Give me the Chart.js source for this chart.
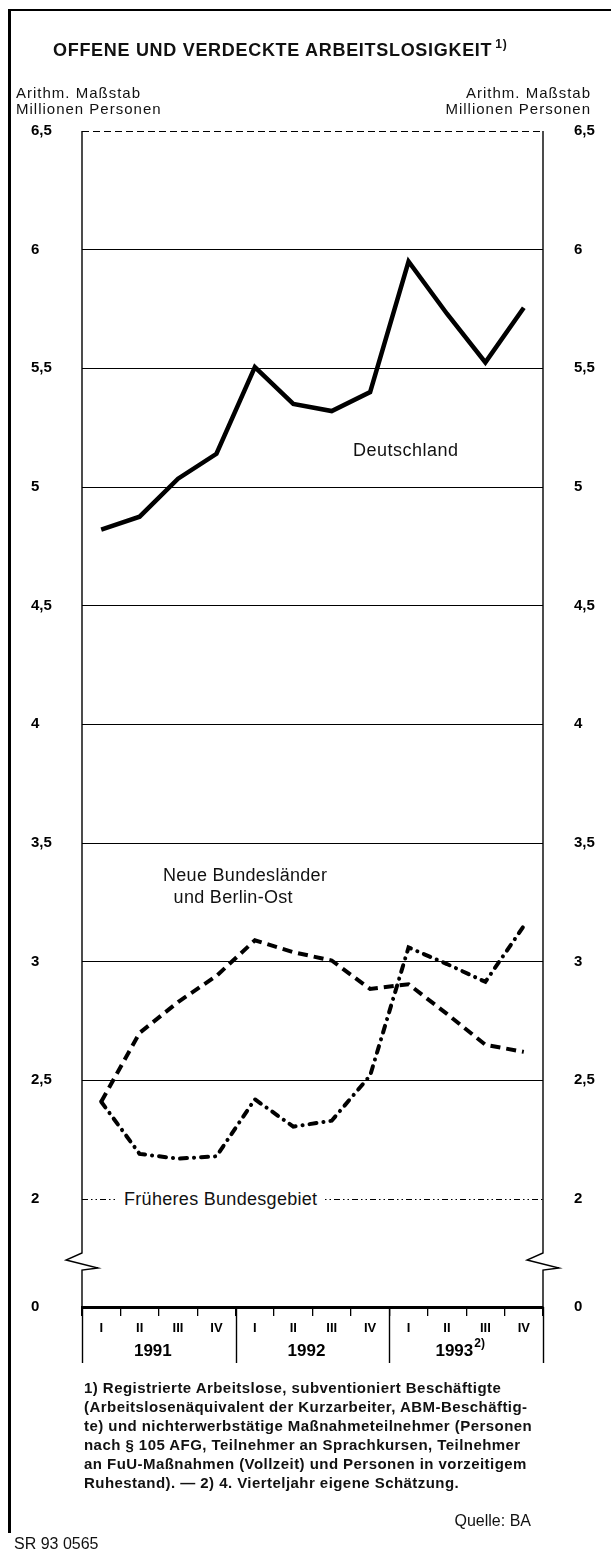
<!DOCTYPE html>
<html><head><meta charset="utf-8">
<script src="https://cdn.jsdelivr.net/npm/chart.js@4"></script>
<style>
html,body{margin:0;padding:0;background:#fff;}
#wrap{position:relative;width:611px;height:1554px;overflow:hidden;font-family:"Liberation Sans",Arial,Helvetica,sans-serif;color:#111;}
#c{position:absolute;left:0;top:0;}
.t{position:absolute;white-space:nowrap;}
.sup{font-size:12px;position:relative;top:-8px;margin-left:3px;}
</style></head><body>
<div id="wrap">
<canvas id="c" width="611" height="1554"></canvas>
<div class="t" style="left:8px;top:9px;width:603px;height:2px;background:#000;"></div>
<div class="t" style="left:8px;top:9px;width:3px;height:1524px;background:#000;"></div>
<div class="t" style="left:53px;top:39px;font-weight:bold;font-size:18px;letter-spacing:0.7px;line-height:22px;">OFFENE UND VERDECKTE ARBEITSLOSIGKEIT<span class="sup">1)</span></div>
<div class="t" style="left:16px;top:85px;font-size:15px;line-height:16px;letter-spacing:1px;">Arithm. Maßstab<br>Millionen Personen</div>
<div class="t" style="right:20px;top:85px;font-size:15px;line-height:16px;letter-spacing:1px;text-align:right;">Arithm. Maßstab<br>Millionen Personen</div>
<div class="t" style="left:353px;top:439px;font-size:18px;line-height:22px;letter-spacing:0.5px;">Deutschland</div>
<div class="t" style="left:163px;top:864px;font-size:18px;line-height:22px;letter-spacing:0.3px;">Neue Bundesländer<br>&nbsp;&nbsp;und Berlin-Ost</div>
<div class="t" style="left:118px;top:1188px;font-size:18px;line-height:22px;letter-spacing:0.3px;background:#fff;padding:0 6px;">Früheres Bundesgebiet</div>
<div class="t" style="left:84px;top:1378px;font-size:15px;font-weight:bold;line-height:19px;letter-spacing:0.45px;">1) Registrierte Arbeitslose, subventioniert Beschäftigte<br>(Arbeitslosenäquivalent der Kurzarbeiter, ABM-Beschäftig-<br>te) und nichterwerbstätige Maßnahmeteilnehmer (Personen<br>nach § 105 AFG, Teilnehmer an Sprachkursen, Teilnehmer<br>an FuU-Maßnahmen (Vollzeit) und Personen in vorzeitigem<br>Ruhestand). — 2) 4. Vierteljahr eigene Schätzung.</div>
<div class="t" style="right:80px;top:1511px;font-size:16px;line-height:20px;">Quelle: BA</div>
<div class="t" style="left:14px;top:1535px;font-size:16px;line-height:18px;">SR 93 0565</div>
</div>
<script>
// ---- data ----
const quarterLabels = ['I','II','III','IV','I','II','III','IV','I','II','III','IV'];
const yearLabels = ['1991','1992','1993'];
const yearNotes = ['','','2)'];
const deutschland = [4.82, 4.875, 5.035, 5.14, 5.505, 5.35, 5.32, 5.40, 5.95, 5.73, 5.525, 5.755];
const neueLaender = [2.41, 2.70, 2.83, 2.94, 3.09, 3.04, 3.005, 2.885, 2.905, 2.78, 2.65, 2.62];
const frueheresBG = [2.41, 2.19, 2.17, 2.18, 2.42, 2.305, 2.33, 2.52, 3.06, 2.99, 2.915, 3.15];
const yTickValues = [2, 2.5, 3, 3.5, 4, 4.5, 5, 5.5, 6, 6.5];
const yTickLabels = ['2','2,5','3','3,5','4','4,5','5','5,5','6','6,5'];
const yBreakBase = 1.545;   // broken axis: bottom of the scale stands for 0
const yBaseLabel = '0';
const yMax = 6.5;

const FONT = "'Liberation Sans', Arial, Helvetica, sans-serif";

const decor = {
  id: 'decor',
  beforeDatasetsDraw(chart) {
    const {ctx, chartArea: ca, scales: {y}} = chart;
    ctx.save();
    ctx.strokeStyle = '#000';
    ctx.lineWidth = 1;
    ctx.setLineDash([7, 4]);
    let yy = Math.round(y.getPixelForValue(yMax)) + 0.5;
    ctx.beginPath(); ctx.moveTo(ca.left, yy); ctx.lineTo(ca.right, yy); ctx.stroke();
    ctx.setLineDash([6, 3, 1.5, 3, 1.5, 3]);
    yy = Math.round(y.getPixelForValue(2)) + 0.5;
    ctx.beginPath(); ctx.moveTo(ca.left, yy); ctx.lineTo(ca.right, yy); ctx.stroke();
    ctx.restore();
  },
  afterDraw(chart) {
    const {ctx, chartArea: ca, scales: {x}} = chart;
    ctx.save();
    ctx.strokeStyle = '#000';
    ctx.lineWidth = 1.4;
    ctx.setLineDash([]);
    const by = ca.bottom - 46;
    [ca.left, ca.right].forEach(x0 => {
      ctx.beginPath();
      ctx.moveTo(x0, ca.top);
      ctx.lineTo(x0, by - 8);
      ctx.lineTo(x0 - 16, by - 1);
      ctx.lineTo(x0 + 16, by + 7);
      ctx.lineTo(x0, by + 9);
      ctx.lineTo(x0, ca.bottom);
      ctx.stroke();
    });
    // year separators
    for (let i = 0; i <= yearLabels.length; i++) {
      const px = Math.round(x.getPixelForValue(i * 4 - 0.5)) + 0.5;
      ctx.beginPath(); ctx.moveTo(px, ca.bottom); ctx.lineTo(px, ca.bottom + 56); ctx.stroke();
    }
    // year labels
    ctx.fillStyle = '#000';
    ctx.textBaseline = 'middle';
    yearLabels.forEach((lab, i) => {
      const cx = x.getPixelForValue(i * 4 + 1.5) - 6;
      ctx.font = 'bold 17px ' + FONT;
      const w1 = ctx.measureText(lab).width;
      ctx.font = 'bold 12px ' + FONT;
      const w2 = yearNotes[i] ? ctx.measureText(yearNotes[i]).width + 1 : 0;
      const x0 = cx - (w1 + w2) / 2;
      ctx.textAlign = 'left';
      ctx.font = 'bold 17px ' + FONT;
      ctx.fillText(lab, x0, ca.bottom + 44);
      if (yearNotes[i]) {
        ctx.font = 'bold 12px ' + FONT;
        ctx.fillText(yearNotes[i], x0 + w1 + 1, ca.bottom + 37);
      }
    });
    ctx.restore();
  }
};

const yTickCallback = v => (v === yBreakBase ? yBaseLabel : yTickLabels[yTickValues.indexOf(v)]);
const setTicks = scale => { scale.ticks = [yBreakBase, ...yTickValues].map(v => ({value: v})); };

new Chart(document.getElementById('c'), {
  type: 'line',
  data: {
    labels: quarterLabels,
    datasets: [
      {label: 'Deutschland', data: deutschland, borderColor: '#000', borderWidth: 4.5,
       pointRadius: 0, tension: 0, fill: false, borderJoinStyle: 'miter', borderCapStyle: 'butt'},
      {label: 'Neue Bundesländer und Berlin-Ost', data: neueLaender, borderColor: '#000', borderWidth: 4,
       borderDash: [10, 6], pointRadius: 0, tension: 0, fill: false, borderCapStyle: 'butt'},
      {label: 'Früheres Bundesgebiet', data: frueheresBG, borderColor: '#000', borderWidth: 4,
       borderDash: [7, 7, 0.1, 7], pointRadius: 0, tension: 0, fill: false, borderCapStyle: 'round'}
    ]
  },
  options: {
    responsive: false,
    animation: false,
    devicePixelRatio: 1,
    layout: {padding: {top: 131, left: 31, right: 0, bottom: 0}},
    plugins: {legend: {display: false}, tooltip: {enabled: false}},
    scales: {
      x: {
        type: 'category', offset: true,
        grid: {offset: true, drawOnChartArea: false, drawTicks: true, tickLength: 9, color: '#000', lineWidth: 1.3},
        border: {display: true, width: 3, color: '#000'},
        ticks: {font: {family: FONT, size: 13, weight: 'bold'}, color: '#000', padding: 5, maxRotation: 0, autoSkip: false},
        afterFit: s => { s.height = 247; }
      },
      y: {
        type: 'linear', position: 'left', min: yBreakBase, max: yMax,
        afterBuildTicks: setTicks,
        grid: {drawTicks: false, lineWidth: 1,
               color: c => (c.tick && (c.tick.value === yBreakBase || c.tick.value === 2 || c.tick.value === yMax)) ? 'rgba(0,0,0,0)' : '#000'},
        border: {display: false},
        ticks: {callback: yTickCallback, crossAlign: 'far', font: {family: FONT, size: 15, weight: 'bold'}, color: '#000', autoSkip: false},
        afterFit: s => { s.width = 51; }
      },
      y2: {
        type: 'linear', position: 'right', min: yBreakBase, max: yMax,
        afterBuildTicks: setTicks,
        grid: {display: false, drawTicks: false},
        border: {display: false},
        ticks: {callback: yTickCallback, crossAlign: 'near', padding: 31, font: {family: FONT, size: 15, weight: 'bold'}, color: '#000', autoSkip: false},
        afterFit: s => { s.width = 68; }
      }
    }
  },
  plugins: [decor]
});
</script>
</body></html>
